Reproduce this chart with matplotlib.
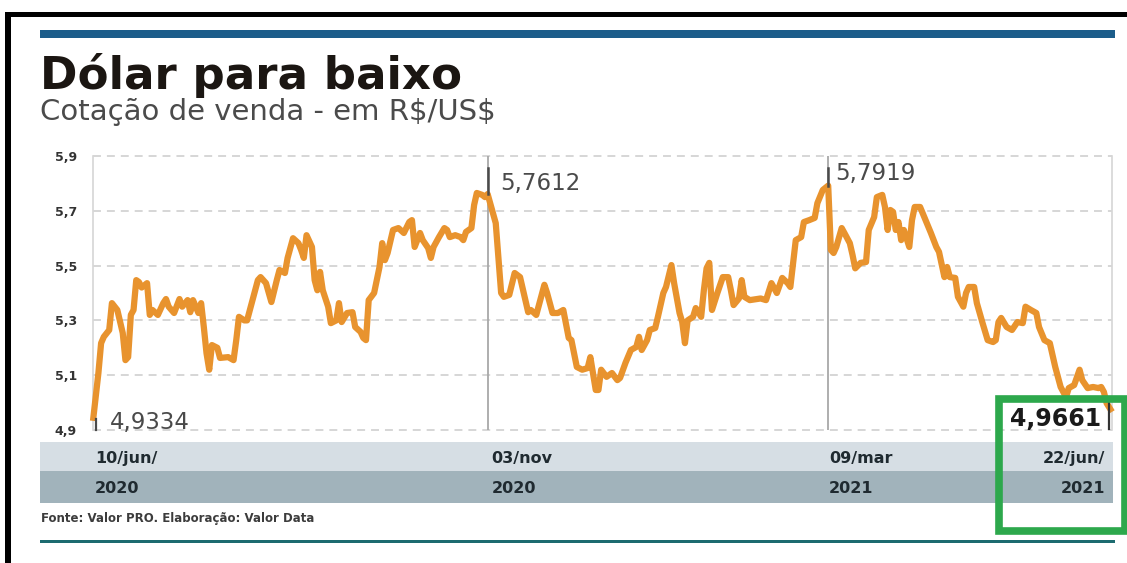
import matplotlib
matplotlib.use("Agg")
import matplotlib.pyplot as plt
import matplotlib.transforms as mtransforms
from matplotlib.patches import Rectangle
import pandas as pd

# cotação de venda R$/US$, pontos do período 10/jun/2020 a 22/jun/2021
dates = [
    "2020-06-10", "2020-06-12", "2020-06-13", "2020-06-14", "2020-06-16", "2020-06-17", "2020-06-19", "2020-06-21",
    "2020-06-22", "2020-06-23", "2020-06-24", "2020-06-25", "2020-06-26", "2020-06-27", "2020-06-28", "2020-06-30",
    "2020-07-01", "2020-07-02", "2020-07-04", "2020-07-06", "2020-07-07", "2020-07-08", "2020-07-10", "2020-07-12",
    "2020-07-13", "2020-07-15", "2020-07-16", "2020-07-17", "2020-07-19", "2020-07-20", "2020-07-21", "2020-07-22",
    "2020-07-23", "2020-07-24", "2020-07-26", "2020-07-27", "2020-07-30",
    "2020-08-01", "2020-08-02", "2020-08-03", "2020-08-05", "2020-08-06", "2020-08-08", "2020-08-10", "2020-08-11",
    "2020-08-13", "2020-08-15", "2020-08-17", "2020-08-18", "2020-08-20", "2020-08-21", "2020-08-23", "2020-08-25",
    "2020-08-26", "2020-08-27", "2020-08-28", "2020-08-30", "2020-08-31",
    "2020-09-01", "2020-09-02", "2020-09-03", "2020-09-05", "2020-09-06", "2020-09-08", "2020-09-09", "2020-09-10",
    "2020-09-12", "2020-09-14", "2020-09-15", "2020-09-17", "2020-09-18", "2020-09-19", "2020-09-20", "2020-09-22",
    "2020-09-24", "2020-09-25", "2020-09-26", "2020-09-27", "2020-09-29",
    "2020-10-01", "2020-10-03", "2020-10-05", "2020-10-06", "2020-10-07", "2020-10-08", "2020-10-09", "2020-10-10",
    "2020-10-12", "2020-10-13", "2020-10-14", "2020-10-16", "2020-10-18", "2020-10-19", "2020-10-20", "2020-10-22",
    "2020-10-24", "2020-10-25", "2020-10-26", "2020-10-28", "2020-10-29", "2020-10-30",
    "2020-11-01", "2020-11-02", "2020-11-03", "2020-11-06", "2020-11-08", "2020-11-09", "2020-11-11", "2020-11-13",
    "2020-11-15", "2020-11-18", "2020-11-19", "2020-11-21", "2020-11-24", "2020-11-25", "2020-11-27", "2020-11-29",
    "2020-12-01", "2020-12-03", "2020-12-04", "2020-12-06", "2020-12-08", "2020-12-10", "2020-12-11", "2020-12-13",
    "2020-12-14", "2020-12-15", "2020-12-17", "2020-12-19", "2020-12-21", "2020-12-22", "2020-12-24", "2020-12-26",
    "2020-12-28", "2020-12-29", "2020-12-30",
    "2021-01-01", "2021-01-02", "2021-01-04", "2021-01-05", "2021-01-07", "2021-01-08", "2021-01-10", "2021-01-11",
    "2021-01-13", "2021-01-14", "2021-01-15", "2021-01-16", "2021-01-18", "2021-01-19", "2021-01-21", "2021-01-22",
    "2021-01-23", "2021-01-24", "2021-01-25", "2021-01-27", "2021-01-29", "2021-01-31",
    "2021-02-01", "2021-02-02", "2021-02-04", "2021-02-05", "2021-02-06", "2021-02-08", "2021-02-12", "2021-02-14",
    "2021-02-16", "2021-02-18", "2021-02-20", "2021-02-22", "2021-02-23", "2021-02-25", "2021-02-27", "2021-02-28",
    "2021-03-02", "2021-03-04", "2021-03-05", "2021-03-07", "2021-03-09", "2021-03-10", "2021-03-11", "2021-03-12",
    "2021-03-14", "2021-03-15", "2021-03-17", "2021-03-18", "2021-03-19", "2021-03-21", "2021-03-23", "2021-03-24",
    "2021-03-26", "2021-03-27", "2021-03-29", "2021-03-30", "2021-03-31",
    "2021-04-01", "2021-04-02", "2021-04-03", "2021-04-04", "2021-04-05", "2021-04-06", "2021-04-08", "2021-04-09",
    "2021-04-10", "2021-04-12", "2021-04-14", "2021-04-16", "2021-04-18", "2021-04-19", "2021-04-21", "2021-04-22",
    "2021-04-23", "2021-04-25", "2021-04-26", "2021-04-28", "2021-04-29", "2021-04-30",
    "2021-05-02", "2021-05-03", "2021-05-05", "2021-05-07", "2021-05-09", "2021-05-10", "2021-05-11", "2021-05-12",
    "2021-05-14", "2021-05-16", "2021-05-18", "2021-05-20", "2021-05-21", "2021-05-23", "2021-05-25", "2021-05-26",
    "2021-05-28", "2021-05-30",
    "2021-06-01", "2021-06-03", "2021-06-05", "2021-06-06", "2021-06-08", "2021-06-10", "2021-06-11", "2021-06-13",
    "2021-06-15", "2021-06-17", "2021-06-18", "2021-06-19", "2021-06-20", "2021-06-22",
]
cotacao = [
    4.9334, 5.108, 5.217, 5.24, 5.265, 5.363, 5.338, 5.254, 5.155, 5.166, 5.32, 5.338, 5.447, 5.44, 5.42, 5.436,
    5.32, 5.338, 5.32, 5.363, 5.378, 5.35, 5.327, 5.378, 5.35, 5.374, 5.33, 5.374, 5.327, 5.363, 5.276, 5.18,
    5.12, 5.21, 5.2, 5.163, 5.166,
    5.155, 5.228, 5.313, 5.30, 5.30, 5.374, 5.447, 5.458, 5.436, 5.367, 5.447, 5.484, 5.473, 5.528, 5.60, 5.582,
    5.557, 5.528, 5.611, 5.568, 5.447,
    5.41, 5.477, 5.41, 5.35, 5.29, 5.30, 5.363, 5.294, 5.327, 5.33, 5.276, 5.258, 5.236, 5.228, 5.374, 5.40,
    5.495, 5.582, 5.52, 5.546, 5.63,
    5.637, 5.619, 5.659, 5.666, 5.568, 5.593, 5.619, 5.593, 5.564, 5.528, 5.568, 5.604, 5.637, 5.63, 5.604, 5.611,
    5.604, 5.593, 5.623, 5.637, 5.721, 5.765,
    5.758, 5.75, 5.7612, 5.655, 5.40, 5.386, 5.393, 5.473, 5.458, 5.33, 5.338, 5.32, 5.43, 5.40, 5.327, 5.327,
    5.338, 5.236, 5.228, 5.13, 5.12, 5.126, 5.166, 5.046, 5.046, 5.12, 5.094, 5.108, 5.082, 5.09, 5.145, 5.192,
    5.203, 5.24, 5.192,
    5.228, 5.265, 5.272, 5.313, 5.40, 5.422, 5.502, 5.436, 5.327, 5.294, 5.217, 5.30, 5.313, 5.345, 5.313, 5.41,
    5.49, 5.51, 5.338, 5.40, 5.458, 5.458,
    5.41, 5.356, 5.38, 5.447, 5.386, 5.374, 5.38, 5.374, 5.436, 5.40, 5.455, 5.436, 5.422, 5.593, 5.604, 5.659,
    5.666, 5.674, 5.728, 5.776, 5.7919, 5.557, 5.546, 5.568, 5.637, 5.619, 5.582, 5.539, 5.49, 5.51, 5.513, 5.63,
    5.677, 5.75, 5.758, 5.714, 5.63,
    5.703, 5.696, 5.63, 5.659, 5.593, 5.63, 5.568, 5.666, 5.714, 5.714, 5.666, 5.619, 5.568, 5.55, 5.458, 5.495,
    5.458, 5.455, 5.386, 5.35, 5.40, 5.422,
    5.422, 5.363, 5.294, 5.228, 5.221, 5.228, 5.294, 5.309, 5.276, 5.265, 5.294, 5.29, 5.35, 5.338, 5.327, 5.276,
    5.228, 5.217,
    5.13, 5.057, 5.02, 5.053, 5.064, 5.12, 5.082, 5.053, 5.057, 5.053, 5.057, 5.039, 4.998, 4.9661,
]

y_ticks = [4.9, 5.1, 5.3, 5.5, 5.7, 5.9]
y_tick_labels = ["4,9", "5,1", "5,3", "5,5", "5,7", "5,9"]

marcos = ["2020-11-03", "2021-03-09"]
destaques = ["2020-06-10", "2020-11-03", "2021-03-09", "2021-06-22"]
rotulos_dia = ["10/jun/", "03/nov", "09/mar", "22/jun/"]
rotulos_ano = ["2020", "2020", "2021", "2021"]

W, H = 1127, 563
fig = plt.figure(figsize=(W / 100, H / 100), dpi=100)
fig.patch.set_facecolor("white")


def fx(x):
    return x / W


def fy(y):
    return 1 - y / H


def faixa(x0, y0, x1, y1, color, z=-1):
    fig.add_artist(Rectangle((fx(x0), fy(y1)), (x1 - x0) / W, (y1 - y0) / H,
                             transform=fig.transFigure, facecolor=color,
                             edgecolor="none", zorder=z))


ax = fig.add_axes([fx(93), fy(430), (1112 - 93) / W, (430 - 156) / H])
ax.patch.set_alpha(0)

x = pd.to_datetime(dates)
serie = dict(zip(x, cotacao))

ax.plot(x, cotacao, color="#e8932e", lw=4.5, solid_joinstyle="round",
        solid_capstyle="butt", zorder=4, clip_on=False)
ax.set_xlim(x[0], x[-1])
ax.set_ylim(4.9, 5.9)

for v in y_ticks:
    ax.axhline(v, color="#cccccc", lw=1.1, dashes=(5.2, 3.9), zorder=1, clip_on=False)

for s in ["top", "bottom"]:
    ax.spines[s].set_visible(False)
for s in ["left", "right"]:
    ax.spines[s].set_color("#d6d6d6")
    ax.spines[s].set_linewidth(1.2)

ax.set_yticks(y_ticks, y_tick_labels)
ax.tick_params(axis="y", length=0, pad=11.5, labelsize=9, labelcolor="#333333")
for lbl in ax.get_yticklabels():
    lbl.set_fontweight("bold")
ax.set_xticks([])

for d in marcos:
    ax.axvline(pd.Timestamp(d), color="#a8a8a8", lw=1.3, zorder=2)

# marcadores e valores em destaque
um_dia = pd.Timedelta(days=1)
d0, d1, d2, d3 = [pd.Timestamp(d) for d in destaques]
v0, v1, v2, v3 = [serie[d] for d in (d0, d1, d2, d3)]


def fmt(v):
    return f"{v:.4f}".replace(".", ",")


ax.plot([d0 + um_dia, d0 + um_dia], [4.9, v0 + 0.006], color="#4a4a4a", lw=1.6, zorder=5, clip_on=False)
ax.plot([d1, d1], [v1, 5.858], color="#4a4a4a", lw=1.8, zorder=5)
ax.plot([d2, d2], [v2, 5.858], color="#4a4a4a", lw=1.8, zorder=5)
ax.plot([d3 - um_dia, d3 - um_dia], [4.9, 5.0], color="#333333", lw=1.6, zorder=5)

ax.annotate(fmt(v0), (d0, v0), xytext=(12.2, -1.4), textcoords="offset points",
            ha="left", va="center", fontsize=16.5, color="#4a4a4a", zorder=6)
ax.annotate(fmt(v1), (d1, v1), xytext=(9.1, 7.9), textcoords="offset points",
            ha="left", va="center", fontsize=16.5, color="#4a4a4a", zorder=6)
ax.annotate(fmt(v2), (d2, v2), xytext=(4.8, 8.4), textcoords="offset points",
            ha="left", va="center", fontsize=16.5, color="#4a4a4a", zorder=6)
ax.annotate(fmt(v3), (d3, v3), xytext=(-7.9, -5.0), textcoords="offset points",
            ha="right", va="center", fontsize=17, fontweight="bold", color="#1a1a1a", zorder=6)

# faixas de datas
faixa(40, 442, 1113, 471, "#d6dee4")
faixa(40, 471, 1113, 503, "#a1b3bb")

trans = mtransforms.blended_transform_factory(ax.transData, fig.transFigure)
desloc = [(2, "left"), (4, "left"), (1, "left"), (-7, "right")]
for d, dia, ano, (dx, ha) in zip(destaques, rotulos_dia, rotulos_ano, desloc):
    t = mtransforms.offset_copy(trans, fig=fig, x=dx, y=0, units="dots")
    ax.text(pd.Timestamp(d), fy(463), dia, transform=t, ha=ha, va="baseline",
            fontsize=11.5, fontweight="bold", color="#1f2a30", clip_on=False)
    ax.text(pd.Timestamp(d), fy(493), ano, transform=t, ha=ha, va="baseline",
            fontsize=11.5, fontweight="bold", color="#1f2a30", clip_on=False)

# cabeçalho e rodapé
faixa(40, 30, 1115, 38, "#1c5d8a")
fig.text(fx(40), fy(89), "Dólar para baixo", fontsize=32.5, fontweight="bold",
         color="#1b1612", va="baseline", ha="left")
fig.text(fx(40), fy(120), r"Cotação de venda - em R\$/US\$", fontsize=21,
         color="#4b4b4b", va="baseline", ha="left")
fig.text(fx(41), fy(522), "Fonte: Valor PRO. Elaboração: Valor Data", fontsize=8.5,
         fontweight="bold", color="#3c3c3c", va="baseline", ha="left")
faixa(40, 540, 1115, 543, "#1d6b70")

# moldura
faixa(5, 12, W, 17, "black", z=5)
faixa(5, 12, 11, H, "black", z=5)
fig.add_artist(Rectangle((fx(999), fy(530.5)), (1124.5 - 999) / W, (530.5 - 398.5) / H,
                         transform=fig.transFigure, facecolor="none",
                         edgecolor="#2da84c", lw=5.5, zorder=10))

fig.savefig("out.png", dpi=100)
